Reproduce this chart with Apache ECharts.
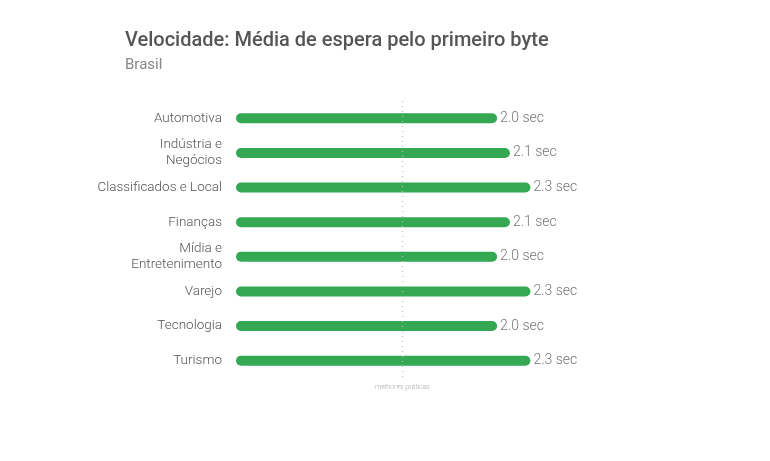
<!DOCTYPE html>
<html>
<head>
<meta charset="utf-8">
<script src="https://cdn.jsdelivr.net/npm/echarts@6/dist/echarts.min.js"></script>
<style>
html,body{margin:0;padding:0;background:#fff;}
#chart{width:770px;height:461px;}
</style>
</head>
<body>
<div id="chart"></div>
<script>
var categories = ['Automotiva', 'Indústria e\nNegócios', 'Classificados e Local', 'Finanças', 'Mídia e\nEntretenimento', 'Varejo', 'Tecnologia', 'Turismo'];
var values = [2.04, 2.14, 2.30, 2.14, 2.04, 2.30, 2.04, 2.30];
var bestPractice = 1.3;
var bestPracticeLabel = 'melhores práticas';

var chart = echarts.init(document.getElementById('chart'));
chart.setOption({
  animation: false,
  backgroundColor: '#fff',
  title: {
    text: 'Velocidade: Média de espera pelo primeiro byte',
    subtext: 'Brasil',
    left: 120,
    top: 26,
    itemGap: 7,
    textStyle: { fontFamily: 'Roboto', fontSize: 20, fontWeight: 500, color: '#555' },
    subtextStyle: { fontFamily: 'Roboto', fontSize: 15, color: '#888' }
  },
  grid: { left: 236, top: 101, width: 512, height: 277, containLabel: false },
  xAxis: {
    type: 'value', min: 0, max: 4, show: false
  },
  yAxis: {
    type: 'category', data: categories, inverse: true,
    axisLine: { show: false }, axisTick: { show: false }, splitLine: { show: false },
    axisLabel: { fontFamily: 'Roboto', fontSize: 13.5, fontWeight: 300, color: '#555', margin: 14, lineHeight: 16, align: 'right' }
  },
  series: [{
    type: 'bar',
    data: values,
    barWidth: 10,
    itemStyle: { color: '#34a853', borderRadius: 5 },
    label: {
      show: true, position: 'right', distance: 3,
      fontFamily: 'Roboto', fontSize: 14, fontWeight: 300, color: '#777',
      formatter: function (p) { return p.value.toFixed(1) + ' sec'; }
    },
    markLine: {
      silent: true, symbol: 'none',
      lineStyle: { type: [1, 4], color: '#bbb', width: 1.2 },
      label: {
        show: true, position: 'end', formatter: bestPracticeLabel,
        fontFamily: 'Roboto', fontSize: 7, fontWeight: 300, color: '#aaa', distance: 6
      },
      data: [{ xAxis: bestPractice }]
    }
  }]
});
</script>
</body>
</html>
